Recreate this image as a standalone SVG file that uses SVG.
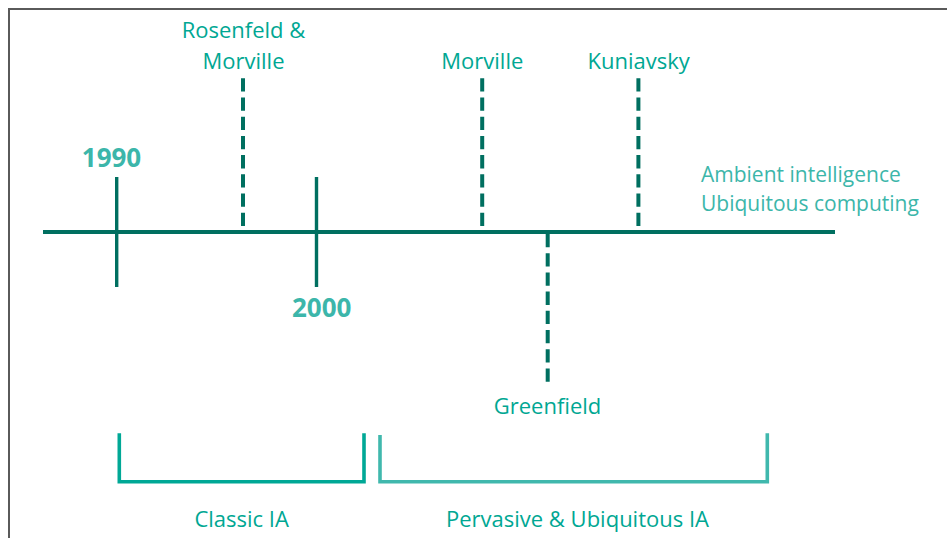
<svg xmlns="http://www.w3.org/2000/svg" width="947" height="538" viewBox="0 0 947 538">
  <style>
    .lbl { font-family: "Open Sans", "Liberation Sans", sans-serif; font-size: 22px; fill: #00a793; text-anchor: middle; }
    .year { font-family: "Open Sans", "Liberation Sans", sans-serif; font-size: 26px; font-weight: bold; fill: #3cb6aa; text-anchor: middle; }
    .amb { font-family: "Open Sans", "Liberation Sans", sans-serif; font-size: 21px; fill: #3cb6aa; }
    .solid { stroke: #006f60; stroke-width: 4; fill: none; }
    .tick { stroke: #006f60; stroke-width: 3.4; fill: none; }
    .dash { stroke: #006f60; stroke-width: 4; stroke-dasharray: 13.3 5.9; fill: none; }
  </style>
  <rect x="0" y="0" width="947" height="538" fill="#ffffff"/>
  <path d="M9,538 V9 H947" fill="none" stroke="#5a5a5a" stroke-width="2"/>

  <g id="connectors">
    <line class="solid" x1="43" y1="232" x2="835" y2="232"/>
    <line class="tick" x1="116.7" y1="177" x2="116.7" y2="287"/>
    <line class="tick" x1="316.5" y1="177" x2="316.5" y2="287"/>
    <line class="dash" x1="243" y1="78.3" x2="243" y2="227"/>
    <line class="dash" x1="482.2" y1="78.3" x2="482.2" y2="227"/>
    <line class="dash" x1="638.4" y1="78.3" x2="638.4" y2="227"/>
    <line class="dash" x1="547.7" y1="234" x2="547.7" y2="386"/>
  </g>

  <g id="year-1990"><text class="year" x="111.5" y="166.7">1990</text></g>
  <g id="year-2000"><text class="year" x="321.7" y="316.7">2000</text></g>

  <g id="rosenfeld-morville">
    <text class="lbl" x="243.5" y="38.3">Rosenfeld &amp;</text>
    <text class="lbl" x="243.5" y="69.3">Morville</text>
  </g>
  <g id="morville"><text class="lbl" x="482.3" y="69.3">Morville</text></g>
  <g id="kuniavsky"><text class="lbl" x="638.7" y="69.3">Kuniavsky</text></g>
  <g id="greenfield"><text class="lbl" x="547.5" y="414.3">Greenfield</text></g>

  <g id="ambient">
    <text class="amb" x="701" y="182.3">Ambient intelligence</text>
    <text class="amb" x="701" y="211">Ubiquitous computing</text>
  </g>

  <g id="classic-ia">
    <path d="M119.3,433.3 V481.7 H364 V433.3" fill="none" stroke="#00a896" stroke-width="3.6"/>
    <text class="lbl" x="241.7" y="527.3">Classic IA</text>
  </g>
  <g id="pervasive-ia">
    <path d="M380,435 V481.7 H767.3 V433.3" fill="none" stroke="#40b8ad" stroke-width="3.6"/>
    <text class="lbl" x="577.5" y="527.3">Pervasive &amp; Ubiquitous IA</text>
  </g>
</svg>
